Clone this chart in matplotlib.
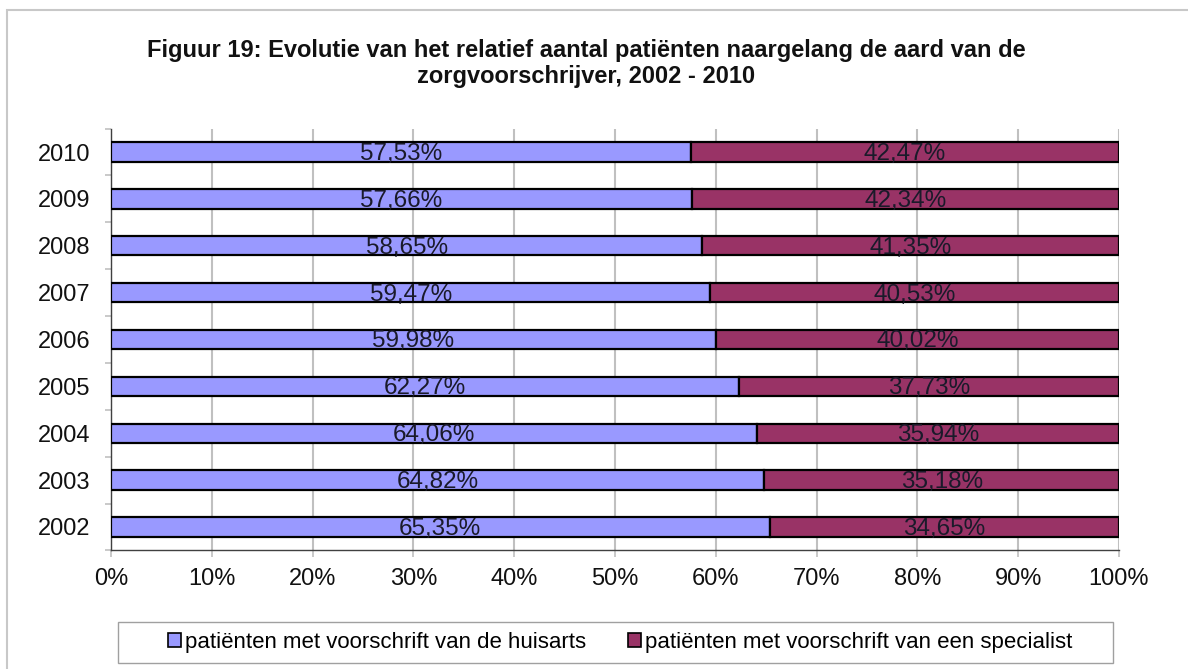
import matplotlib
matplotlib.use("Agg")
import matplotlib.pyplot as plt
from matplotlib.patches import Rectangle
from matplotlib.ticker import FixedLocator, PercentFormatter
import numpy as np

plt.rcParams["font.family"] = ["Liberation Sans", "DejaVu Sans"]

BLUE   = "#9999FF"
MAROON = "#993366"
GRID   = "#C0C0C0"

years      = ["2002", "2003", "2004", "2005", "2006", "2007", "2008", "2009", "2010"]
huisarts   = [65.35, 64.82, 64.06, 62.27, 59.98, 59.47, 58.65, 57.66, 57.53]
specialist = [34.65, 35.18, 35.94, 37.73, 40.02, 40.53, 41.35, 42.34, 42.47]
series_names = ["patiënten met voorschrift van de huisarts",
                "patiënten met voorschrift van een specialist"]
title_lines = ["Figuur 19: Evolutie van het relatief aantal patiënten naargelang de aard van de",
               "zorgvoorschrijver, 2002 - 2010"]


def pct_label(v):
    return f"{v:.2f}".replace(".", ",") + "%"


W, H = 1188, 669
fig = plt.figure(figsize=(W / 100, H / 100), dpi=100)
fig.patch.set_facecolor("white")

# grey page frame (only top and left edge visible)
fig.patches.append(Rectangle((7 / W, -0.5), 2, 0.5 + (1 - 10 / H),
                             transform=fig.transFigure, fill=False,
                             edgecolor="#C8C8C8", lw=1.5, zorder=0))

ax = fig.add_axes([111 / W, 1 - 550.4 / H, (1119 - 111) / W, (550.4 - 128.6) / H])

y = np.arange(len(years))
b1 = ax.barh(y, huisarts, height=0.41, color=BLUE, edgecolor="black",
             linewidth=1.6, label=series_names[0], zorder=3)
b2 = ax.barh(y, specialist, left=huisarts, height=0.41, color=MAROON,
             edgecolor="black", linewidth=1.6, label=series_names[1], zorder=3)

for i in range(len(years)):
    ax.text(huisarts[i] / 2, y[i] - 0.04, pct_label(huisarts[i]),
            ha="center", va="center", fontsize=17.5, color="#1A1A2A", zorder=4)
    ax.text(huisarts[i] + specialist[i] / 2, y[i] - 0.04, pct_label(specialist[i]),
            ha="center", va="center", fontsize=17.5, color="#1A1A2A", zorder=4)

ax.set_xlim(0, 100)
ax.set_ylim(-0.5, len(years) - 0.5)
ax.set_xticks(np.arange(0, 101, 10))
ax.xaxis.set_major_formatter(PercentFormatter(decimals=0))
ax.set_yticks(y)
ax.set_yticklabels(years)
ax.yaxis.set_minor_locator(FixedLocator(np.arange(-0.5, len(years), 1)))

ax.xaxis.grid(True, color=GRID, lw=1.5, zorder=0)
ax.set_axisbelow(True)

for sp in ["top", "right"]:
    ax.spines[sp].set_visible(False)
ax.spines["left"].set_color("#404040")
ax.spines["bottom"].set_color("#404040")
ax.spines["left"].set_linewidth(1.0)
ax.spines["bottom"].set_linewidth(1.0)

ax.tick_params(axis="x", length=5, width=1.2, color=GRID, pad=8,
               labelsize=17, labelcolor="#111111")
ax.tick_params(axis="y", which="major", length=0, pad=15,
               labelsize=17, labelcolor="#111111")
ax.tick_params(axis="y", which="minor", length=4.5, width=1.2, color=GRID)

fig.text(586 / W, 1 - 50 / H, title_lines[0], ha="center", va="center",
         fontsize=17, fontweight="bold", color="#111111")
fig.text(586 / W, 1 - 77 / H, title_lines[1], ha="center", va="center",
         fontsize=17, fontweight="bold", color="#111111")

# legend box drawn separately so the padding matches the original
fig.patches.append(Rectangle((118 / W, 1 - 663 / H), (1113 - 118) / W, 41 / H,
                             transform=fig.transFigure, facecolor="white",
                             edgecolor="#A0A0A0", lw=1.0, zorder=1))
leg = fig.legend(handles=[b1, b2], loc="center", ncol=2,
                 bbox_to_anchor=(620 / W, 1 - 642.5 / H),
                 fontsize=16, frameon=False,
                 handlelength=0.6, handleheight=0.6, handletextpad=0.15,
                 columnspacing=1.9, borderpad=0.2, borderaxespad=0)
for h in leg.legend_handles:
    h.set_linewidth(1.2)

fig.savefig("out.png", dpi=100, facecolor="white")
